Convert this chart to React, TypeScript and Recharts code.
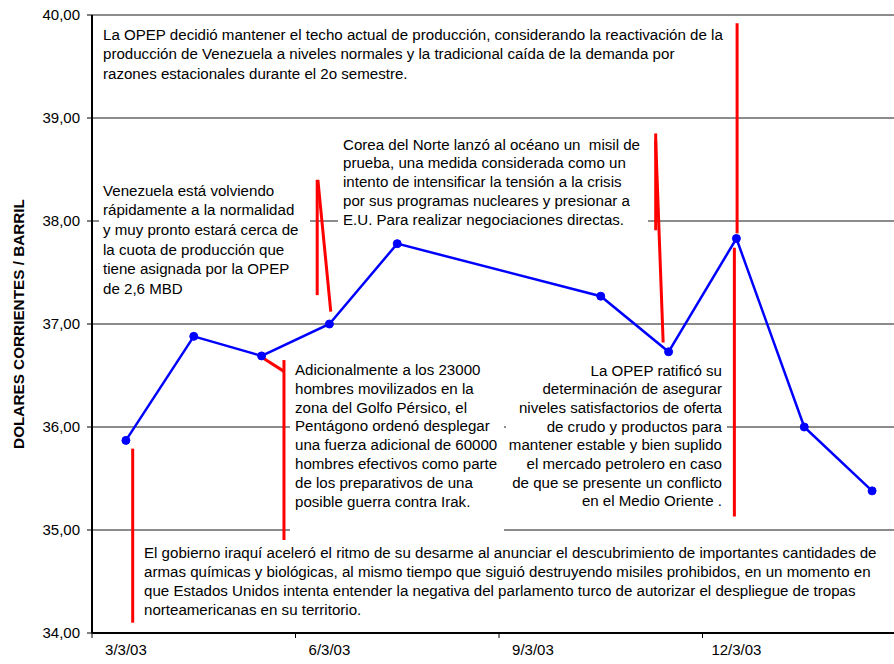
import { LineChart, Line, XAxis, YAxis, CartesianGrid, ReferenceLine } from "recharts";

// calendar days on the category axis (8/3 and 9/3 have no quote)
const dates = [
  "3/3/03", "4/3/03", "5/3/03", "6/3/03", "7/3/03", "8/3/03",
  "9/3/03", "10/3/03", "11/3/03", "12/3/03", "13/3/03", "14/3/03",
];
const prices = [35.87, 36.88, 36.69, 37.0, 37.78, null, null, 37.27, 36.73, 37.83, 36.0, 35.38];
const yTicks = [34, 35, 36, 37, 38, 39, 40];
const xBoundaries = [-0.5, 2.5, 5.5, 8.5, 11.5];

// red callout strokes, in day index / price units
const callouts = [
  { x1: 0.1, y1: 35.79, x2: 0.1, y2: 34.1 },
  { x1: 2.33, y1: 36.65, x2: 2.33, y2: 34.89 },
  { x1: 2.02, y1: 36.67, x2: 2.33, y2: 36.54 },
  { x1: 2.82, y1: 38.4, x2: 2.82, y2: 37.28 },
  { x1: 2.83, y1: 38.4, x2: 3.02, y2: 37.12 },
  { x1: 7.81, y1: 38.85, x2: 7.81, y2: 37.91 },
  { x1: 7.81, y1: 38.78, x2: 7.92, y2: 36.82 },
  { x1: 9.01, y1: 39.92, x2: 9.01, y2: 37.88 },
  { x1: 8.97, y1: 37.74, x2: 8.97, y2: 35.13 },
];

const data = dates.map((d, i) => ({ idx: i, date: d, price: prices[i] }));

const CHART_W = 906;
const CHART_H = 664;
const Y_W = 92;
const BAND = (CHART_W - Y_W) / dates.length;
const FONT = "'Liberation Sans', Arial, sans-serif";

type NoteProps = {
  lines: string[];
  left: number;
  top: number;
  width: number;
  height: number;
  padTop: number;
  padX?: number;
  lineHeight: number;
  align?: "left" | "right";
};

function Note({ lines, left, top, width, height, padTop, padX = 4, lineHeight, align = "left" }: NoteProps) {
  return (
    <div
      style={{
        position: "absolute",
        left,
        top,
        width,
        height,
        background: "#fff",
        boxSizing: "border-box",
        paddingTop: padTop,
        paddingLeft: align === "left" ? padX : 0,
        paddingRight: align === "right" ? padX : 0,
        textAlign: align,
        fontFamily: FONT,
        fontSize: 15.1,
        lineHeight: `${lineHeight}px`,
        color: "#000",
        whiteSpace: "pre",
      }}
    >
      {lines.map((l, i) => (
        <div key={i}>{l}</div>
      ))}
    </div>
  );
}

function DateTick(props: any) {
  const { x, y, payload } = props;
  const label = dates[payload.value + 0.5];
  if (!label) return null;
  return (
    <text x={x + BAND / 2} y={y} dy={10} textAnchor="middle" fontFamily={FONT} fontSize={15} fill="#000">
      {label}
    </text>
  );
}

export default function App() {
  return (
    <div style={{ position: "absolute", left: 0, top: 0, width: 894, height: 664, overflow: "hidden", background: "#fff" }}>
      <LineChart width={CHART_W} height={CHART_H} data={data} margin={{ top: 15, right: 0, bottom: 0, left: 0 }}>
        <CartesianGrid vertical={false} stroke="#000" strokeOpacity={0.9} />
        <XAxis
          dataKey="idx"
          type="number"
          domain={[-0.5, 11.5]}
          ticks={xBoundaries}
          interval={0}
          height={31}
          tickSize={5}
          tickMargin={7}
          tick={<DateTick />}
          axisLine={{ stroke: "#000", strokeWidth: 2 }}
          tickLine={{ stroke: "#000" }}
        />
        <YAxis
          width={Y_W}
          domain={[34, 40]}
          ticks={yTicks}
          interval={0}
          tickSize={5}
          tickMargin={7}
          tickFormatter={(v: number) => v.toFixed(2).replace(".", ",")}
          tick={{ fill: "#000", fontSize: 15, fontFamily: FONT }}
          axisLine={{ stroke: "#000", strokeWidth: 2 }}
          tickLine={{ stroke: "#000" }}
          label={{
            value: "DOLARES CORRIENTES / BARRIL",
            angle: -90,
            position: "insideLeft",
            offset: 19,
            style: { textAnchor: "middle", fontFamily: FONT, fontSize: 15.3, fontWeight: 700, fill: "#000" },
          }}
        />
        {callouts.map((c, i) => (
          <ReferenceLine
            key={i}
            segment={[{ x: c.x1, y: c.y1 }, { x: c.x2, y: c.y2 }]}
            stroke="#ff0000"
            strokeWidth={3}
          />
        ))}
        <Line
          type="linear"
          dataKey="price"
          stroke="#0000ff"
          strokeWidth={2.5}
          connectNulls
          dot={{ r: 4, fill: "#0000ff", stroke: "#0000ff", strokeWidth: 1 }}
          isAnimationActive={false}
        />
      </LineChart>

      <Note
        left={99}
        top={22}
        width={634}
        height={66}
        padTop={2.5}
        lineHeight={19.5}
        lines={[
          "La OPEP decidió mantener el techo actual de producción, considerando la reactivación de la",
          "producción de Venezuela a niveles normales y la tradicional caída de la demanda por",
          "razones estacionales durante el 2o semestre.",
        ]}
      />
      <Note
        left={99}
        top={178}
        width={211}
        height={124}
        padTop={2.5}
        lineHeight={19.7}
        lines={[
          "Venezuela está volviendo",
          "rápidamente a la normalidad",
          "y muy pronto estará cerca de",
          "la cuota de producción que",
          "tiene asignada por la OPEP",
          "de 2,6 MBD",
        ]}
      />
      <Note
        left={338}
        top={129}
        width={310}
        height={102}
        padTop={6.5}
        padX={5}
        lineHeight={18.8}
        lines={[
          "Corea del Norte lanzó al océano un  misil de",
          "prueba, una medida considerada como un",
          "intento de intensificar la tensión a la crisis",
          "por sus programas nucleares y presionar a",
          "E.U. Para realizar negociaciones directas.",
        ]}
      />
      <Note
        left={290}
        top={360}
        width={214}
        height={176}
        padTop={1}
        padX={5}
        lineHeight={18.8}
        lines={[
          "Adicionalmente a los 23000",
          "hombres movilizados en la",
          "zona del Golfo Pérsico, el",
          "Pentágono ordenó desplegar",
          "una fuerza adicional de 60000",
          "hombres efectivos como parte",
          "de los preparativos de una",
          "posible guerra contra Irak.",
        ]}
      />
      <Note
        left={506}
        top={360}
        width={221}
        height={154}
        padTop={1.5}
        padX={5}
        align="right"
        lineHeight={18.7}
        lines={[
          "La OPEP ratificó su",
          "determinación de asegurar",
          "niveles satisfactorios de oferta",
          "de crudo y productos para",
          "mantener estable y bien suplido",
          "el mercado petrolero en caso",
          "de que se presente un conflicto",
          "en el Medio Oriente .",
        ]}
      />
      <Note
        left={140}
        top={540}
        width={752}
        height={86}
        padTop={2.5}
        lineHeight={19.2}
        lines={[
          "El gobierno iraquí aceleró el ritmo de su desarme al anunciar el descubrimiento de importantes cantidades de",
          "armas químicas y biológicas, al mismo tiempo que siguió destruyendo misiles prohibidos, en un momento en",
          "que Estados Unidos intenta entender la negativa del parlamento turco de autorizar el despliegue de tropas",
          "norteamericanas en su territorio.",
        ]}
      />
    </div>
  );
}
